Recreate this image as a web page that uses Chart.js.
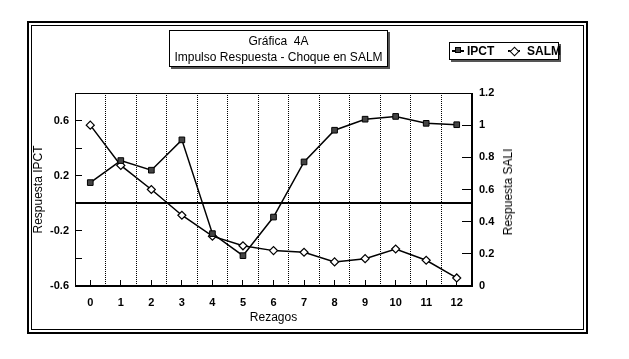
<!DOCTYPE html>
<html>
<head>
<meta charset="utf-8">
<script src="https://cdn.jsdelivr.net/npm/chart.js"></script>
<style>
  body { margin: 0; background: #fff; font-family: "Liberation Sans", Arial, sans-serif; color: #000; }
  #wrap { position: relative; width: 629px; height: 359px; }
  #frame { position: absolute; left: 27px; top: 21px; width: 561px; height: 313px; box-sizing: border-box; border: 2px solid #000; }
  #frame div { position: absolute; left: 2px; top: 2px; right: 2px; bottom: 2px; border: 1px solid #000; }
  #c { position: absolute; left: 0; top: 0; }
  #titulo { position: absolute; left: 169px; top: 30px; width: 219px; height: 37px; box-sizing: border-box;
            border: 1px solid #000; box-shadow: 2px 2px 0 #555; background: #fff;
            text-align: center; font-size: 12px; line-height: 16px; padding-top: 2px; }
  #leyenda { position: absolute; left: 449px; top: 42px; width: 110px; height: 18px; box-sizing: border-box;
             border: 1px solid #000; box-shadow: 2px 2px 0 #555; background: #fff; font-size: 12px; font-weight: bold; }
  #leyenda .ln { position: absolute; top: 7px; width: 12px; height: 2px; background: #000; }
  #leyenda .sq { position: absolute; top: 4px; width: 6px; height: 6px; background: #444; border: 1px solid #000; box-sizing: border-box; }
  #leyenda .dm { position: absolute; top: 5px; width: 5px; height: 5px; background: #fff; border: 1px solid #000; transform: rotate(45deg); }
  #leyenda .tx { position: absolute; top: 1px; line-height: 14px; }
  #tituloDer { position: absolute; left: 508px; top: 192px; transform: translate(-50%, -50%) rotate(-90deg);
               font-size: 12px; white-space: nowrap; }
</style>
</head>
<body>
<div id="wrap">
  <div id="frame"><div></div></div>
  <canvas id="c" width="629" height="359"></canvas>
  <div id="titulo">Gráfica&nbsp; 4A<br>Impulso Respuesta - Choque en SALM</div>
  <div id="leyenda">
    <span class="ln" style="left:2px"></span><span class="sq" style="left:5px"></span><span class="tx" style="left:17px">IPCT</span>
    <span class="ln" style="left:58px"></span><span class="dm" style="left:61px"></span><span class="tx" style="left:77px">SALM</span>
  </div>
  <div id="tituloDer">Respuesta SALI</div>
</div>
<script>
const rezagos = ['0', '1', '2', '3', '4', '5', '6', '7', '8', '9', '10', '11', '12'];
const ipct = [0.15, 0.31, 0.24, 0.46, -0.22, -0.38, -0.10, 0.30, 0.53, 0.61, 0.63, 0.58, 0.57];
const salm = [1.00, 0.75, 0.60, 0.44, 0.31, 0.25, 0.22, 0.21, 0.15, 0.17, 0.23, 0.16, 0.05];
const etiquetasIPCT = ['-0.6', '-0.2', '0.2', '0.6'];

const fuenteTicks = { family: 'Liberation Sans, Arial, sans-serif', size: 11, weight: 'bold' };
const fuenteTitulo = { family: 'Liberation Sans, Arial, sans-serif', size: 12 };

// marco del area de trazado
const marcoGrafico = {
    id: 'marcoGrafico',
    beforeDatasetsDraw(chart) {
        const { ctx, chartArea: a } = chart;
        ctx.save();
        ctx.strokeStyle = '#000';
        ctx.lineWidth = 1;
        ctx.strokeRect(a.left + 0.5, a.top + 0.5, a.right - a.left - 1, a.bottom - a.top - 1);
        ctx.restore();
    }
};

new Chart(document.getElementById('c'), {
    type: 'line',
    data: {
        labels: rezagos,
        datasets: [{
            label: 'IPCT',
            data: ipct,
            yAxisID: 'y',
            borderColor: '#000',
            borderWidth: 1.5,
            pointStyle: 'rect',
            pointRadius: 4,
            pointBackgroundColor: '#444',
            pointBorderColor: '#000',
            pointBorderWidth: 1,
            tension: 0
        }, {
            label: 'SALM',
            data: salm,
            yAxisID: 'y1',
            borderColor: '#000',
            borderWidth: 1.5,
            pointStyle: 'rectRot',
            pointRadius: 4,
            pointBackgroundColor: '#fff',
            pointBorderColor: '#000',
            pointBorderWidth: 1.2,
            tension: 0
        }]
    },
    options: {
        responsive: false,
        animation: false,
        layout: { padding: { top: 93 } },
        plugins: {
            legend: { display: false },
            tooltip: { enabled: false }
        },
        scales: {
            x2: {
                type: 'category',
                position: 'bottom',
                weight: 0,
                offset: true,
                afterFit: s => { s.height = 0; },
                ticks: { display: false },
                border: { display: false },
                grid: { offset: false, drawOnChartArea: false, drawTicks: true, tickLength: -6, tickColor: '#000', tickWidth: 1 }
            },
            x: {
                position: 'bottom',
                weight: 1,
                offset: true,
                afterFit: s => { s.height = 73; },
                grid: { offset: true, color: '#000', lineWidth: 1, drawTicks: false },
                border: { display: true, color: '#000', width: 1, dash: [1, 1] },
                ticks: { font: fuenteTicks, color: '#000', padding: 10, maxRotation: 0, autoSkip: false },
                title: { display: true, text: 'Rezagos', font: fuenteTitulo, color: '#000', padding: { top: 0, bottom: 34 } }
            },
            y: {
                position: 'left',
                min: -0.6,
                max: 0.8,
                afterFit: s => { s.width = 75; },
                ticks: {
                    stepSize: 0.2,
                    font: fuenteTicks,
                    color: '#000',
                    padding: 13,
                    callback: v => {
                        const t = String(Math.round(v * 10) / 10);
                        return etiquetasIPCT.includes(t) ? t : '';
                    }
                },
                grid: {
                    drawOnChartArea: true,
                    color: c => (c.tick && Math.round(c.tick.value * 10) === 0) ? '#000' : 'rgba(0,0,0,0)',
                    lineWidth: c => (c.tick && Math.round(c.tick.value * 10) === 0) ? 2 : 1,
                    drawTicks: true,
                    tickLength: -7,
                    tickColor: '#000',
                    tickWidth: 1
                },
                border: { display: true, color: '#000', width: 1 },
                title: { display: true, text: 'Respuesta IPCT', font: fuenteTitulo, color: '#000', padding: { top: 31, bottom: 0 } }
            },
            y1: {
                position: 'right',
                min: 0,
                max: 1.2,
                afterFit: s => { s.width = 157; },
                ticks: {
                    stepSize: 0.2,
                    font: fuenteTicks,
                    color: '#000',
                    padding: 17,
                    callback: v => String(Math.round(v * 10) / 10)
                },
                grid: { drawOnChartArea: false, drawTicks: true, tickLength: -10, tickColor: '#000', tickWidth: 1 },
                border: { display: true, color: '#000', width: 1 }
            }
        }
    },
    plugins: [marcoGrafico]
});
</script>
</body>
</html>
